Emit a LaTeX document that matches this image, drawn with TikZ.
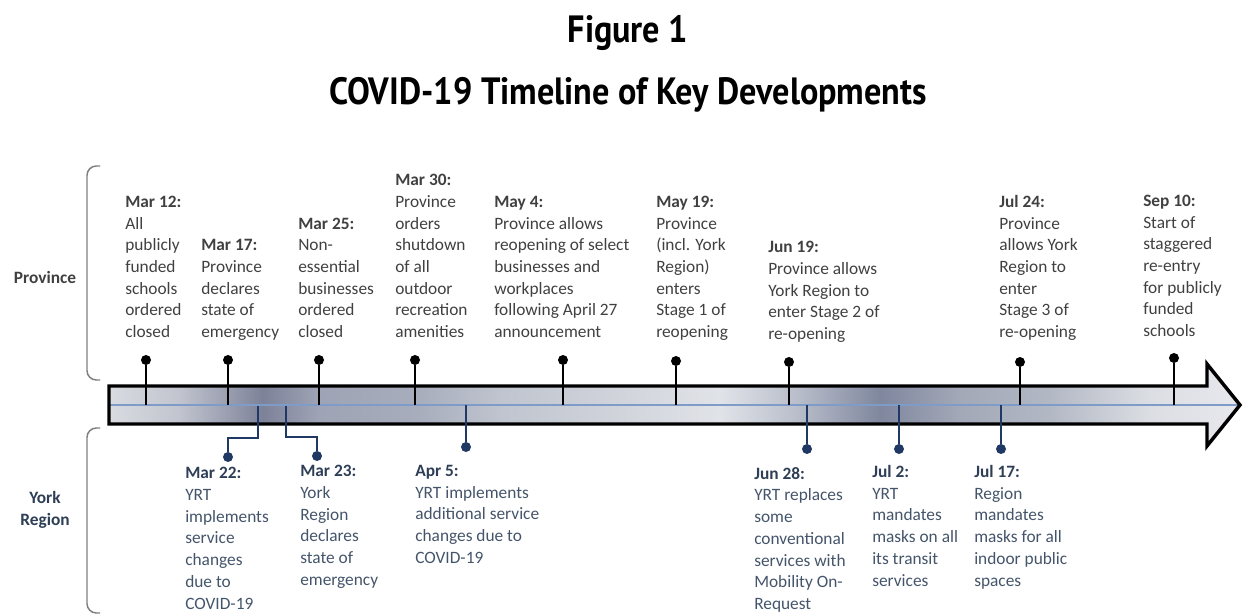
\documentclass[tikz,border=0pt]{standalone}
\usepackage{fontspec}
\setmainfont{Carlito}
\newfontfamily\headfont[FakeStretch=0.9]{PT Sans}
\usetikzlibrary{positioning}

\definecolor{provtext}{HTML}{404040}
\definecolor{yorktext}{HTML}{44546A}
\definecolor{yorkhead}{HTML}{2E3E56}
\definecolor{yorkline}{HTML}{1F3864}
\definecolor{axisblue}{HTML}{7F9CC8}
\definecolor{bracegray}{HTML}{7F7F7F}

\pgfdeclarehorizontalshading{timeline}{100bp}{%
  rgb(0bp)=(0.85,0.86,0.88); rgb(25bp)=(0.85,0.86,0.88);
  rgb(28.1bp)=(0.76,0.77,0.81); rgb(31.8bp)=(0.49,0.51,0.60);
  rgb(34.3bp)=(0.62,0.64,0.71); rgb(38.7bp)=(0.66,0.68,0.74);
  rgb(42.3bp)=(0.75,0.77,0.81); rgb(47.6bp)=(0.82,0.83,0.86);
  rgb(52bp)=(0.88,0.89,0.91); rgb(55.5bp)=(0.72,0.74,0.79);
  rgb(59.1bp)=(0.50,0.53,0.62); rgb(62.6bp)=(0.64,0.66,0.72);
  rgb(66.6bp)=(0.70,0.72,0.77); rgb(71bp)=(0.86,0.87,0.89);
  rgb(75bp)=(0.91,0.91,0.93); rgb(100bp)=(0.91,0.91,0.93)}

\newcommand{\yhead}[1]{\textcolor{yorkhead}{\textbf{#1}}}

\begin{document}
\begin{tikzpicture}[
    x=0.75pt, y=-0.75pt,
    title/.style={anchor=base, inner sep=0pt, font=\headfont\bfseries\fontsize{28.5}{30}\selectfont},
    side/.style={inner sep=0pt, align=center, font=\bfseries\fontsize{13}{16.3}\selectfont},
    prov/.style={
      anchor=south west, inner sep=0pt, align=left, text depth=3pt,
      text=provtext, font=\fontsize{13}{16.3}\selectfont
    },
    york/.style={
      anchor=north west, inner sep=0pt, align=left,
      text=yorktext, font=\fontsize{13}{16.3}\selectfont
    },
    pdot/.style={circle, fill=black, inner sep=0pt, minimum size=7.5pt},
    ydot/.style={circle, fill=yorkline, inner sep=0pt, minimum size=7.5pt},
    pstem/.style={line width=1pt, black},
    ystem/.style={line width=0.9pt, yorkline},
    brace/.style={line width=1.1pt, bracegray, rounded corners=7pt},
  ]
    \useasboundingbox (0,0) rectangle (1243,616);

    % headings
    \node[title](fig) at (628,43) {Figure 1};
    \node[title](heading) at (628,105) {COVID-19 Timeline of Key Developments};

    % the arrow
    \shade[shading=timeline] (109,386) -- (1207,386) -- (1207,364) -- (1240,405)
      -- (1207,446) -- (1207,424) -- (109,424) -- cycle;
    \coordinate (axl) at (109,405);
    \coordinate (axr) at (1238,405);
    \draw[axisblue, line width=0.8pt] (axl) -- (axr);
    \draw[line width=2.6pt, line join=miter] (109,386) -- (1207,386) -- (1207,364) -- (1240,405)
      -- (1207,446) -- (1207,424) -- (109,424) -- cycle;

    % brackets
    \draw[brace] (100,166) -- (87,166) -- (87,380) -- (100,380);
    \draw[brace] (100,428) -- (87,428) -- (87,613) -- (100,613);
    \node[side, text=provtext](province) at (45,277) {Province};
    \node[side, text=yorkhead](york) at (45,510) {York\\Region};

    % province events
    \node[prov](mar12) at (125,342) {\textbf{Mar 12:}\\All\\publicly\\funded\\schools\\ordered\\closed};
    \node[prov](mar17) at (201,342) {\textbf{Mar 17:}\\Province\\declares\\state of\\emergency};
    \node[prov](mar25) at (298,342) {\textbf{Mar 25:}\\Non-\\essential\\businesses\\ordered\\closed};
    \node[prov](mar30) at (395,342) {\textbf{Mar 30:}\\Province\\orders\\shutdown\\of all\\outdoor\\recreation\\amenities};
    \node[prov](may4) at (494,342) {\textbf{May 4:}\\Province allows\\reopening of select\\businesses and\\workplaces\\following April 27\\announcement};
    \node[prov](may19) at (656,342) {\textbf{May 19:}\\Province\\(incl. York\\Region)\\enters\\Stage 1 of\\reopening};
    \node[prov](jun19) at (768,344) {\textbf{Jun 19:}\\Province allows\\York Region to\\enter Stage 2 of\\re-opening};
    \node[prov](jul24) at (999,342) {\textbf{Jul 24:}\\Province\\allows York\\Region to\\enter\\Stage 3 of\\re-opening};
    \node[prov](sep10) at (1143,341) {\textbf{Sep 10:}\\Start of\\staggered\\re-entry\\for publicly\\funded\\schools};

    \node[pdot](mar12_dot) at (146,360) {};
    \node[pdot](mar17_dot) at (228,360) {};
    \node[pdot](mar25_dot) at (319,360) {};
    \node[pdot](mar30_dot) at (415,360) {};
    \node[pdot](may4_dot) at (563,360) {};
    \node[pdot](may19_dot) at (676,361) {};
    \node[pdot](jun19_dot) at (789,362) {};
    \node[pdot](jul24_dot) at (1020,362) {};
    \node[pdot](sep10_dot) at (1174,358) {};

    % york region events
    \node[york](mar22) at (185,467) {\yhead{Mar 22:}\\YRT\\implements\\service\\changes\\due to\\COVID-19};
    \node[york](mar23) at (300,465) {\yhead{Mar 23:}\\York\\Region\\declares\\state of\\emergency};
    \node[york](apr5) at (415,465) {\yhead{Apr 5:}\\YRT implements\\additional service\\changes due to\\COVID-19};
    \node[york](jun28) at (754,467) {\yhead{Jun 28:}\\YRT replaces\\some\\conventional\\services with\\Mobility On-\\Request};
    \node[york](jul2) at (872,465) {\yhead{Jul 2:}\\YRT\\mandates\\masks on all\\its transit\\services};
    \node[york](jul17) at (974,465) {\yhead{Jul 17:}\\Region\\mandates\\masks for all\\indoor public\\spaces};

    \node[ydot](mar22_dot) at (228,457) {};
    \node[ydot](mar23_dot) at (317,456) {};
    \node[ydot](apr5_dot) at (466,447) {};
    \node[ydot](jun28_dot) at (807,449) {};
    \node[ydot](jul2_dot) at (899,449) {};
    \node[ydot](jul17_dot) at (1001,449) {};

    \coordinate (mar22_ax) at (258,406);
    \coordinate (mar23_ax) at (286,406);

    \draw[pstem] (mar12_dot) -- (mar12_dot |- axl);
    \draw[pstem] (mar17_dot) -- (mar17_dot |- axl);
    \draw[pstem] (mar25_dot) -- (mar25_dot |- axl);
    \draw[pstem] (mar30_dot) -- (mar30_dot |- axl);
    \draw[pstem] (may4_dot) -- (may4_dot |- axl);
    \draw[pstem] (may19_dot) -- (may19_dot |- axl);
    \draw[pstem] (jun19_dot) -- (jun19_dot |- axl);
    \draw[pstem] (jul24_dot) -- (jul24_dot |- axl);
    \draw[pstem] (sep10_dot) -- (sep10_dot |- axl);

    \draw[ystem] (mar22_ax) |- +(-15,32) -| (mar22_dot);
    \draw[ystem] (mar23_ax) |- +(15,31) -| (mar23_dot);
    \draw[ystem] (apr5_dot) -- (apr5_dot |- axl);
    \draw[ystem] (jun28_dot) -- (jun28_dot |- axl);
    \draw[ystem] (jul2_dot) -- (jul2_dot |- axl);
    \draw[ystem] (jul17_dot) -- (jul17_dot |- axl);
  \end{tikzpicture}
\end{document}
